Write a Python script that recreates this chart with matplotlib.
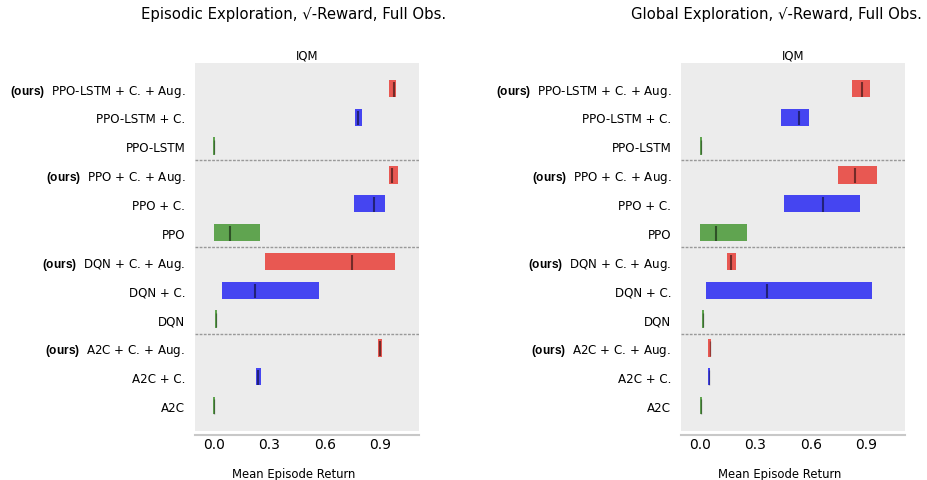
import matplotlib
matplotlib.use("Agg")
import matplotlib.pyplot as plt

plt.rcParams['font.family'] = ['DejaVu Sans']
plt.rcParams['mathtext.fontset'] = 'custom'
plt.rcParams['mathtext.bf'] = 'Liberation Sans:bold'
plt.rcParams['mathtext.rm'] = 'Liberation Sans'

# Algorithms listed top to bottom
algorithms = ["PPO-LSTM + C. + Aug.", "PPO-LSTM + C.", "PPO-LSTM",
              "PPO + C. + Aug.", "PPO + C.", "PPO",
              "DQN + C. + Aug.", "DQN + C.", "DQN",
              "A2C + C. + Aug.", "A2C + C.", "A2C"]
ours = [True, False, False, True, False, False, True, False, False, True, False, False]
kinds = ["aug", "c", "base"] * 4

titles = ["Episodic Exploration, \u221a-Reward, Full Obs.",
          "Global Exploration, \u221a-Reward, Full Obs."]

# Episodic panel: IQM point, lower CI, upper CI
ep_point = [0.974, 0.782, 0.000, 0.965, 0.866, 0.084, 0.745, 0.220, 0.012, 0.898, 0.240, 0.000]
ep_lower = [0.949, 0.766, -0.006, 0.949, 0.759, -0.002, 0.278, 0.041, 0.006, 0.889, 0.227, -0.006]
ep_upper = [0.985, 0.801, 0.006, 0.996, 0.925, 0.250, 0.979, 0.568, 0.018, 0.912, 0.256, 0.006]

# Global panel
gl_point = [0.879, 0.538, 0.007, 0.840, 0.668, 0.089, 0.168, 0.362, 0.018, 0.052, 0.050, 0.005]
gl_lower = [0.825, 0.440, 0.001, 0.750, 0.453, 0.002, 0.144, 0.034, 0.012, 0.046, 0.044, -0.001]
gl_upper = [0.920, 0.588, 0.013, 0.957, 0.865, 0.253, 0.196, 0.932, 0.024, 0.058, 0.056, 0.011]

xticks = [0.0, 0.3, 0.6, 0.9]
colors = {"aug": "#E8504A", "c": "#3C3CF2", "base": "#58A048"}

fig = plt.figure(figsize=(9.27, 4.81), dpi=100)
axes_rects = [[0.2104, 0.1019, 0.2416, 0.765], [0.7346, 0.1019, 0.2416, 0.765]]
title_x = [0.317, 0.838]
xlabel_x = [0.317, 0.841]
data = [(ep_point, ep_lower, ep_upper), (gl_point, gl_lower, gl_upper)]

n = len(algorithms)
h = 0.6
for p in range(2):
    ax = fig.add_axes(axes_rects[p])
    ax.set_facecolor("#ECECEC")
    pts, lows, ups = data[p]
    for i in range(n):
        y = n - 1 - i
        ax.barh(y=y, width=ups[i] - lows[i], height=h, left=lows[i],
                color=colors[kinds[i]], alpha=0.95, linewidth=0)
        narrow = (ups[i] - lows[i]) < 0.02
        ax.vlines(x=pts[i], ymin=y - 7.5 * h / 16, ymax=y + 6 * h / 16,
                  color='k', alpha=0.35 if narrow else 0.5,
                  linewidth=1.0 if narrow else 1.5)
    for ysep in [2.5, 5.5, 8.5]:
        ax.axhline(ysep, color="#999999", linestyle=(0, (2, 1)), linewidth=1.0)
    labels = []
    for i in range(n):
        lab = algorithms[i]
        if ours[i]:
            lab = r"$\bf{(ours)}$  " + lab
        labels.append(lab)
    ax.set_yticks(list(range(n)))
    ax.set_yticklabels(labels[::-1], fontsize=8.6)
    ax.set_ylim(-0.88, 11.88)
    ax.set_xlim(-0.103, 1.11)
    ax.set_xticks(xticks)
    ax.set_xticklabels([f"{t:.1f}" for t in xticks], fontsize=8.4)
    ax.tick_params(axis='both', length=0, width=0)
    ax.tick_params(axis='y', pad=7)
    ax.tick_params(axis='x', pad=1.5)
    for s in ['left', 'right', 'top']:
        ax.spines[s].set_visible(False)
    ax.spines['bottom'].set_position(('outward', 3))
    ax.spines['bottom'].set_color('#C8C8C8')
    ax.spines['bottom'].set_linewidth(1.5)
    ax.set_title("IQM", fontsize=8.4, pad=3)
    fig.text(title_x[p], 0.969, titles[p], ha='center', va='center', fontsize=10.7)
    fig.text(xlabel_x[p], 0.0125, "Mean Episode Return", ha='center', va='center', fontsize=8.4)

fig.savefig("out.png", dpi=100)
